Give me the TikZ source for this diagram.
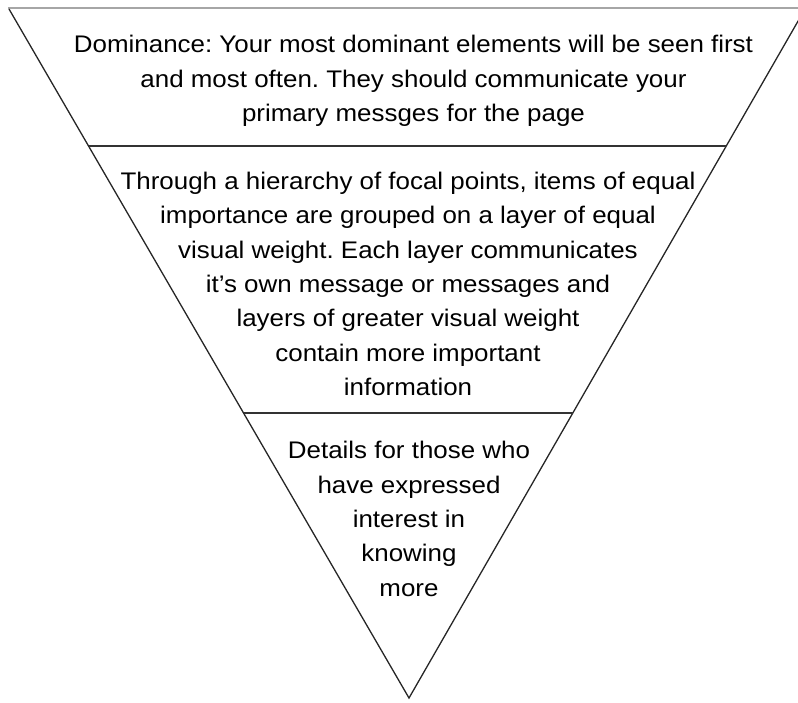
\documentclass[tikz,border=0pt]{standalone}
\usepackage{fontspec}
\setmainfont{Liberation Sans}[FakeStretch=1.08]
\usetikzlibrary{calc,positioning}
\tikzset{
  side/.style={line width=1.3pt, black!85},
  divider/.style={line width=1.3pt, black!80},
  layer/.style={align=center, inner sep=0pt, font=\fontsize{24}{34.3}\selectfont}
}
\frenchspacing
\begin{document}
\begin{tikzpicture}[x=1pt,y=-1pt]
\useasboundingbox (0,0) rectangle (798,702);
\coordinate (topleft) at (9,9);
\coordinate (topright) at (805,9);
\coordinate (apex) at (409,698);
\coordinate (edgeleft) at (8,8);
\coordinate (edgeright) at (798,8);

% pyramid outline
\draw[gray!70, line width=2.5pt] (edgeleft) -- (edgeright);
\draw[side] (topleft) -- (apex) -- (topright);
\draw[divider] ($(topleft)!0.1988!(apex)$) -- ($(topright)!0.1988!(apex)$);
\draw[divider] ($(topleft)!0.5864!(apex)$) -- ($(topright)!0.5864!(apex)$);

\node (dominance) [layer] at (413.5,81) {Dominance: Your most dominant elements will be seen first\\
and most often. They should communicate your\\
primary messges for the page};
\node (hierarchy) [layer, below of=dominance, node distance=203pt, xshift=-5.5pt] {Through a hierarchy of focal points, items of equal\\
importance are grouped on a layer of equal\\
visual weight. Each layer communicates\\
it’s own message or messages and\\
layers of greater visual weight\\
contain more important\\
information};
\node (details) [layer, below of=hierarchy, node distance=235pt, xshift=1pt] {Details for those who\\
have expressed\\
interest in\\
knowing\\
more};
\end{tikzpicture}
\end{document}
